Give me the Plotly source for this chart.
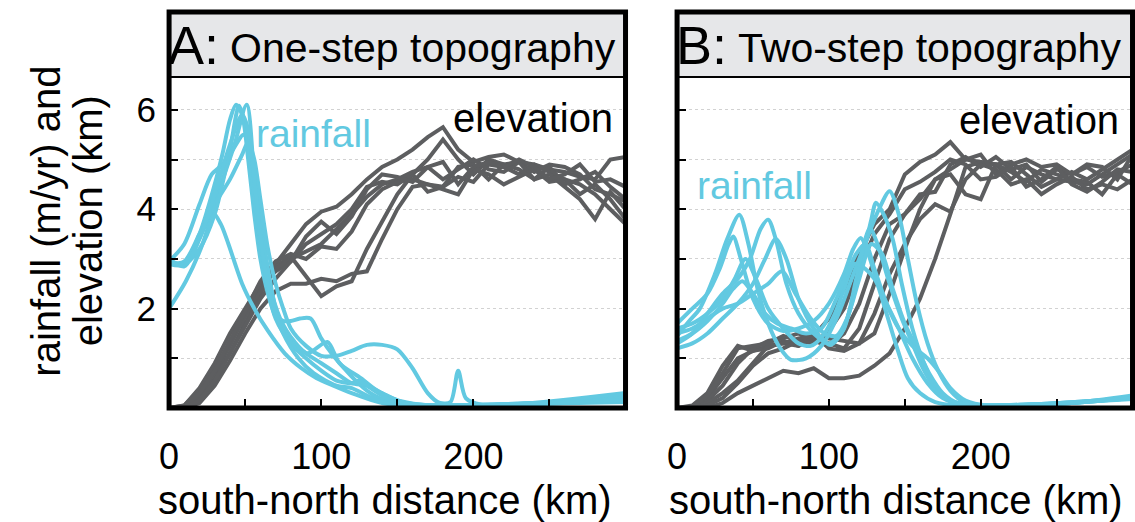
import plotly.graph_objects as go

# ---------------- data ----------------
elev_x = [0, 10, 20, 30, 40, 50, 60, 70, 80, 90, 100, 110, 120, 130, 140, 150,
          160, 170, 180, 190, 200, 210, 220, 230, 240, 250, 260, 270, 280, 290, 300]

elev_A = [
    [0, 0.05, 0.35, 0.8, 1.3, 1.9, 2.45, 2.9, 3.3, 3.7, 3.95, 4.05, 4.3, 4.6, 4.85, 5.0,
     5.2, 5.45, 5.65, 5.2, 4.95, 5.05, 5.1, 4.95, 4.9, 4.8, 4.75, 4.65, 4.6, 5.0, 5.05],
    [0, 0, 0.2, 0.6, 1.1, 1.7, 2.3, 2.85, 3.05, 2.65, 2.25, 2.45, 2.55, 3.2, 3.75, 4.3,
     4.7, 4.35, 4.45, 4.65, 4.55, 4.9, 4.85, 4.7, 4.9, 4.75, 4.6, 4.3, 4.5, 4.2, 3.8],
    [0, 0.05, 0.4, 0.9, 1.5, 2.0, 2.5, 2.75, 2.95, 3.3, 3.5, 3.7, 4.0, 4.45, 4.55, 4.5,
     4.7, 5.0, 5.4, 5.0, 4.7, 5.0, 4.9, 4.95, 4.75, 4.9, 4.85, 4.7, 4.4, 4.3, 4.15],
    [0, 0, 0.25, 0.7, 1.25, 1.85, 2.35, 2.8, 3.0, 3.15, 3.3, 3.6, 3.9, 4.25, 4.5, 4.6,
     4.75, 4.85, 4.6, 4.8, 5.0, 4.8, 4.75, 4.95, 4.6, 4.7, 4.45, 4.2, 3.8, 4.35, 4.0],
    [0, 0, 0.1, 0.45, 0.95, 1.5, 2.0, 2.35, 2.5, 2.5, 2.6, 2.55, 2.7, 2.75, 3.4, 4.0,
     4.45, 4.5, 4.4, 4.3, 4.8, 4.7, 4.5, 4.65, 4.8, 4.55, 4.6, 4.5, 4.3, 4.0, 3.7],
    [0, 0.02, 0.3, 0.75, 1.35, 1.95, 2.55, 2.95, 3.1, 3.0, 3.25, 3.2, 3.55, 4.1, 4.4, 4.55,
     4.6, 4.5, 4.45, 4.85, 4.9, 4.6, 4.9, 4.8, 4.6, 4.85, 4.5, 4.6, 4.75, 4.45, 4.2],
    [0, 0, 0.15, 0.55, 1.1, 1.65, 2.2, 2.6, 2.95, 3.45, 3.75, 3.5, 3.85, 4.4, 4.7, 4.65,
     4.55, 4.85, 4.95, 4.5, 4.85, 4.95, 4.85, 5.0, 4.85, 4.6, 4.7, 4.9, 4.55, 4.6, 4.45],
]

elev_B = [
    [0, 0.05, 0.3, 0.85, 1.25, 1.15, 1.25, 1.3, 1.4, 1.45, 1.8, 2.4, 3.1, 3.7, 4.0, 4.7,
     4.95, 5.1, 5.35, 5.0, 4.95, 4.9, 4.6, 4.85, 4.7, 4.6, 4.55, 4.5, 4.7, 4.9, 5.1],
    [0, 0, 0, 0.1, 0.3, 0.45, 0.6, 0.75, 0.7, 0.8, 0.6, 0.6, 0.65, 0.85, 1.1, 1.6,
     2.2, 3.0, 3.9, 4.85, 4.95, 4.9, 4.75, 4.55, 4.8, 4.7, 4.6, 4.55, 4.3, 4.7, 4.5],
    [0, 0.02, 0.2, 0.6, 1.0, 1.15, 1.2, 1.35, 1.25, 1.4, 1.3, 1.2, 1.6, 2.5, 3.4, 3.9,
     4.2, 4.6, 4.7, 4.3, 4.2, 4.9, 4.95, 4.7, 4.45, 4.6, 4.75, 4.6, 4.8, 5.0, 5.2],
    [0, 0, 0.15, 0.45, 0.9, 1.2, 1.35, 1.4, 1.5, 1.35, 1.25, 1.5, 2.1, 3.0, 3.7, 3.9,
     4.3, 4.35, 4.9, 5.05, 4.85, 5.05, 4.8, 4.9, 4.55, 4.8, 4.7, 4.85, 4.65, 4.75, 4.9],
    [0, 0, 0.1, 0.3, 0.55, 0.9, 1.25, 1.3, 1.25, 1.45, 1.4, 1.35, 1.3, 1.9, 2.7, 3.3,
     3.8, 4.1, 3.95, 4.6, 4.9, 4.8, 4.5, 4.6, 4.3, 4.5, 4.65, 4.4, 4.5, 4.4, 4.6],
    [0, 0, 0.05, 0.2, 0.5, 0.85, 1.1, 1.2, 1.35, 1.5, 1.2, 1.15, 1.3, 1.5, 2.3, 3.2,
     4.0, 4.6, 4.8, 5.0, 5.1, 4.7, 4.9, 5.0, 4.85, 4.9, 4.7, 4.9, 4.85, 4.6, 5.1],
    [0, 0.02, 0.25, 0.7, 1.2, 1.25, 1.3, 1.45, 1.35, 1.3, 1.55, 2.0, 2.8, 3.5, 3.9, 4.4,
     4.55, 4.75, 5.0, 4.9, 4.6, 4.65, 4.85, 4.45, 4.6, 4.85, 4.5, 4.35, 4.55, 4.8, 4.75],
]

rain_A_x = [
    [0, 10, 20, 30, 35, 40, 44, 48, 52, 56, 60, 65, 70, 75, 80, 86, 93, 100, 108, 115, 121, 130, 140, 160, 200, 250, 300],
    [0, 11, 22, 32, 43, 51, 58, 65, 73, 82, 91, 104, 112, 126, 138, 151, 173, 200, 250, 300],
    [0, 9, 22, 28, 34, 39, 48, 56, 65, 76, 87, 97, 108, 120, 140, 170, 220, 300],
    [0, 10, 20, 28, 35, 42, 49, 55, 60, 65, 70, 75, 80, 90, 100, 110, 120, 130, 140, 150, 160, 180, 230, 300],
    [0, 10, 20, 30, 40, 48, 52, 56, 60, 65, 70, 75, 80, 90, 100, 110, 120, 130, 140, 150, 160, 170, 178, 185, 190, 195, 205, 240, 270, 300],
    [0, 10, 20, 30, 40, 46, 50, 55, 60, 65, 70, 80, 90, 100, 110, 120, 125, 130, 140, 150, 170, 220, 300],
    [0, 10, 20, 30, 40, 48, 52, 57, 62, 68, 75, 85, 95, 110, 120, 130, 140, 150, 190, 260, 300],
]
rain_A_y = [
    [2.95, 2.9, 3.5, 4.5, 5.1, 5.8, 6.1, 5.9, 5.0, 3.9, 3.0, 2.3, 1.85, 1.75, 1.75, 1.8, 1.8, 1.4, 1.05, 0.8, 0.6, 0.35, 0.18, 0.07, 0.06, 0.1, 0.18],
    [2.0, 2.55, 3.3, 4.3, 5.3, 6.1, 3.8, 2.6, 1.8, 1.35, 1.1, 1.33, 0.9, 0.6, 0.32, 0.15, 0.05, 0.06, 0.1, 0.25],
    [2.9, 2.88, 3.55, 3.96, 3.7, 3.3, 2.5, 2.0, 1.55, 1.1, 0.8, 0.6, 0.45, 0.3, 0.1, 0.05, 0.06, 0.15],
    [2.95, 3.3, 4.1, 4.7, 4.9, 5.2, 5.5, 5.0, 3.8, 2.8, 2.0, 1.6, 1.35, 1.1, 0.9, 0.7, 0.5, 0.45, 0.3, 0.15, 0.08, 0.05, 0.08, 0.3],
    [2.9, 2.95, 3.5, 4.1, 4.6, 5.1, 5.35, 5.0, 4.2, 3.2, 2.5, 2.0, 1.6, 1.25, 1.05, 1.05, 1.15, 1.27, 1.27, 1.18, 0.8, 0.3, 0.1, 0.12, 0.75, 0.2, 0.07, 0.1, 0.12, 0.2],
    [2.95, 2.9, 3.2, 3.9, 5.2, 6.08, 5.7, 4.5, 3.3, 2.4, 1.8, 1.3, 1.0, 0.75, 0.55, 0.5, 0.55, 0.45, 0.25, 0.1, 0.05, 0.07, 0.12],
    [3.0, 2.85, 3.4, 4.3, 5.3, 5.9, 5.6, 4.3, 3.0, 2.1, 1.5, 1.0, 0.7, 0.45, 0.4, 0.25, 0.12, 0.05, 0.05, 0.12, 0.15],
]

rain_B_x = [
    [0, 8, 15, 25, 33, 41, 47, 53, 60, 68, 75, 85, 95, 105, 115, 125, 133, 140, 146, 152, 158, 165, 172, 180, 190, 200, 230, 260, 300],
    [0, 10, 20, 30, 40, 48, 55, 60, 65, 72, 80, 90, 100, 108, 115, 122, 128, 131, 136, 142, 148, 155, 162, 170, 180, 195, 220, 260, 300],
    [0, 10, 20, 28, 34, 37, 42, 50, 60, 70, 80, 90, 100, 110, 116, 121, 126, 132, 138, 145, 152, 160, 170, 185, 200, 240, 300],
    [0, 10, 20, 30, 40, 50, 58, 65, 72, 80, 90, 101, 110, 118, 124, 127, 132, 140, 148, 155, 162, 170, 180, 195, 220, 260, 300],
    [0, 10, 20, 30, 38, 45, 52, 60, 70, 80, 88, 96, 104, 110, 117, 124, 130, 138, 146, 155, 165, 175, 190, 220, 260, 300],
    [0, 10, 20, 30, 40, 50, 60, 69, 78, 88, 97, 105, 112, 120, 128, 135, 142, 150, 158, 166, 175, 185, 200, 240, 300],
    [0, 10, 20, 30, 37, 43, 50, 58, 66, 75, 85, 95, 105, 112, 118, 124, 130, 138, 146, 155, 165, 172, 180, 190, 205, 240, 300],
]
rain_B_y = [
    [1.45, 1.75, 2.0, 2.7, 3.4, 3.89, 3.3, 2.4, 1.7, 1.2, 0.97, 1.0, 1.25, 1.8, 2.6, 3.4, 4.0, 4.36, 3.9, 3.0, 2.1, 1.3, 0.75, 0.35, 0.1, 0.05, 0.06, 0.1, 0.2],
    [1.3, 1.5, 1.9, 2.3, 2.6, 3.0, 3.6, 3.79, 3.4, 2.5, 1.9, 1.5, 1.3, 1.5, 2.1, 3.0, 3.8, 4.13, 3.9, 3.4, 2.5, 1.6, 0.95, 0.45, 0.15, 0.05, 0.06, 0.1, 0.25],
    [1.7, 2.0, 2.3, 2.8, 3.3, 3.45, 3.0, 2.2, 1.7, 1.55, 1.6, 1.75, 2.1, 2.7, 3.2, 3.42, 3.1, 2.5, 1.9, 1.2, 0.6, 0.3, 0.12, 0.05, 0.05, 0.08, 0.2],
    [1.2, 1.3, 1.5, 1.8, 2.1, 2.5, 3.0, 3.4, 3.0, 2.2, 1.6, 1.27, 1.6, 2.6, 3.4, 3.62, 3.3, 2.5, 1.8, 1.3, 0.8, 0.4, 0.15, 0.05, 0.06, 0.1, 0.22],
    [1.6, 1.7, 1.9, 2.2, 2.6, 3.0, 2.6, 2.0, 1.6, 1.3, 1.25, 1.45, 1.9, 2.4, 2.9, 2.8, 2.6, 2.1, 1.6, 1.0, 0.5, 0.2, 0.05, 0.05, 0.1, 0.2],
    [1.5, 1.6, 1.8, 2.0, 2.1, 2.3, 2.5, 2.75, 2.3, 1.8, 1.5, 1.45, 1.8, 2.6, 3.3, 3.1, 2.4, 1.7, 1.2, 0.7, 0.3, 0.1, 0.05, 0.08, 0.18],
    [1.35, 1.5, 1.75, 2.1, 2.4, 2.55, 2.3, 1.9, 1.7, 1.6, 1.5, 1.6, 2.2, 2.7, 3.1, 3.3, 2.8, 2.1, 1.6, 1.25, 1.0, 0.75, 0.4, 0.15, 0.05, 0.08, 0.2],
]

panel_letters = ["A:", "B:"]
panel_titles = ["One-step topography", "Two-step topography"]
x_tickvals = [0, 50, 100, 150, 200, 250]
x_ticktext = ["0", "", "100", "", "200", ""]
y_tickvals = [1, 2, 3, 4, 5, 6]
y_ticktext = ["", "2", "", "4", "", "6"]
y_title_lines = ["rainfall (m/yr) and", "elevation (km)"]
x_title = "south-north distance (km)"

# ---------------- styling ----------------
W, H = 1135, 522
FONT = "Liberation Sans, Arial, Helvetica, sans-serif"
CYAN = "#62c9e1"
GRAY = "#5d5e60"


def px(x):
    return x / W


def py(y):
    return 1 - y / H


# panel geometry in pixels
panels = [
    dict(left=160.5, right=621, xa="x", ya="y", xt_shift=-12),
    dict(left=673, right=1132.5, xa="x2", ya="y2", xt_shift=-9),
]
FRAME_TOP = 12
STRIP_BOTTOM = 77
PLOT_BOTTOM = 408
UNIT = 49.7
YMAX = (PLOT_BOTTOM - STRIP_BOTTOM) / UNIT

fig = go.Figure()

for i, (elev, rx, ry) in enumerate([(elev_A, rain_A_x, rain_A_y), (elev_B, rain_B_x, rain_B_y)]):
    xa = panels[i]["xa"]
    ya = panels[i]["ya"]
    for e in elev:
        fig.add_trace(go.Scatter(x=elev_x, y=e, mode="lines", xaxis=xa, yaxis=ya,
                                 line=dict(color=GRAY, width=4), showlegend=False,
                                 hoverinfo="skip"))
    for xs, ys in zip(rx, ry):
        fig.add_trace(go.Scatter(x=xs, y=ys, mode="lines", xaxis=xa, yaxis=ya,
                                 line=dict(color=CYAN, width=4, shape="spline", smoothing=0.8),
                                 showlegend=False, hoverinfo="skip"))

shapes = []
annotations = []
for i, p in enumerate(panels):
    # title strip
    shapes.append(dict(type="rect", xref="paper", yref="paper",
                       x0=px(p["left"]), x1=px(p["right"]),
                       y0=py(STRIP_BOTTOM), y1=py(FRAME_TOP),
                       fillcolor="#e6e7e9", line=dict(width=0), layer="below"))
    shapes.append(dict(type="line", xref="paper", yref="paper",
                       x0=px(p["left"]), x1=px(p["right"]),
                       y0=py(STRIP_BOTTOM), y1=py(STRIP_BOTTOM),
                       line=dict(color="black", width=2)))
    # frame
    shapes.append(dict(type="rect", xref="paper", yref="paper",
                       x0=px(p["left"]), x1=px(p["right"]),
                       y0=py(PLOT_BOTTOM), y1=py(FRAME_TOP),
                       line=dict(color="black", width=5)))
    annotations.append(dict(text=panel_letters[i], xref="paper", yref="paper",
                            x=px(p["left"] - 3), y=py(45), xanchor="left", yanchor="middle",
                            showarrow=False, font=dict(family=FONT, size=54, color="black")))
    annotations.append(dict(text=panel_titles[i], xref="paper", yref="paper",
                            x=px(p["left"] + 59), y=py(48), xanchor="left", yanchor="middle",
                            showarrow=False, font=dict(family=FONT, size=41, color="black")))
    annotations.append(dict(text=x_title, xref="paper", yref="paper",
                            x=px((p["left"] + p["right"]) / 2 + p["xt_shift"]), y=py(500),
                            xanchor="center", yanchor="middle", showarrow=False,
                            font=dict(family=FONT, size=40, color="black")))

# series labels
annotations += [
    dict(text="rainfall", xref="paper", yref="paper", x=px(246), y=py(134), xanchor="left",
         yanchor="middle", showarrow=False, font=dict(family=FONT, size=39, color=CYAN)),
    dict(text="elevation", xref="paper", yref="paper", x=px(445), y=py(118), xanchor="left",
         yanchor="middle", showarrow=False, font=dict(family=FONT, size=40, color="black")),
    dict(text="rainfall", xref="paper", yref="paper", x=px(691), y=py(185), xanchor="left",
         yanchor="middle", showarrow=False, font=dict(family=FONT, size=39, color=CYAN)),
    dict(text="elevation", xref="paper", yref="paper", x=px(955), y=py(120), xanchor="left",
         yanchor="middle", showarrow=False, font=dict(family=FONT, size=40, color="black")),
]
# y axis title (two lines)
annotations.append(dict(text=y_title_lines[0], xref="paper", yref="paper", x=px(36), y=py(221),
                        xanchor="center", yanchor="middle", textangle=-90, showarrow=False,
                        font=dict(family=FONT, size=40, color="black")))
annotations.append(dict(text=y_title_lines[1], xref="paper", yref="paper", x=px(79), y=py(221),
                        xanchor="center", yanchor="middle", textangle=-90, showarrow=False,
                        font=dict(family=FONT, size=40, color="black")))

common_x = dict(range=[0, 300], tickmode="array", tickvals=x_tickvals, ticktext=x_ticktext,
                ticks="inside", ticklen=9, tickwidth=2, tickcolor="black",
                showgrid=False, zeroline=False, showline=False,
                tickfont=dict(family=FONT, size=36, color="black"), ticklabelstandoff=24)
common_y = dict(range=[0, YMAX], tickmode="array", tickvals=y_tickvals, ticktext=y_ticktext,
                ticks="inside", ticklen=9, tickwidth=2, tickcolor="black",
                showgrid=True, gridcolor="#d2d2d2", griddash="dot", gridwidth=1,
                zeroline=False, showline=False,
                tickfont=dict(family=FONT, size=35, color="black"), ticklabelstandoff=12)

fig.update_layout(
    width=W, height=H, autosize=False,
    margin=dict(l=0, r=0, t=0, b=0),
    paper_bgcolor="white", plot_bgcolor="white",
    showlegend=False,
    xaxis=dict(domain=[px(panels[0]["left"]), px(panels[0]["right"])], anchor="y", **common_x),
    yaxis=dict(domain=[py(PLOT_BOTTOM), py(STRIP_BOTTOM)], anchor="x", **common_y),
    xaxis2=dict(domain=[px(panels[1]["left"]), px(panels[1]["right"])], anchor="y2", **common_x),
    yaxis2=dict(domain=[py(PLOT_BOTTOM), py(STRIP_BOTTOM)], anchor="x2", showticklabels=False,
                **common_y),
    shapes=shapes,
    annotations=annotations,
)

fig.write_html("out.html")
